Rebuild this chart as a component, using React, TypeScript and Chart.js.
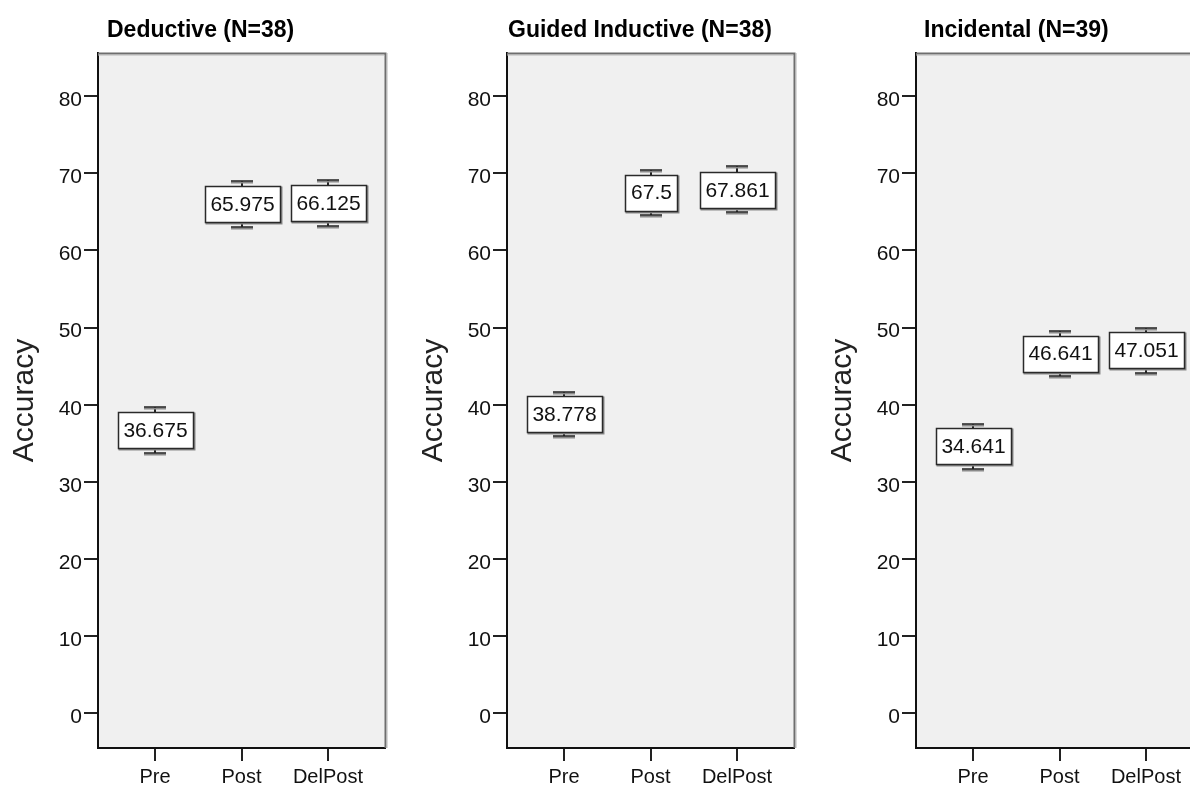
import React, { useEffect, useRef } from "react";
import { Chart, registerables } from "chart.js";

Chart.register(...registerables);

// ---------- data ----------
const categories = ["Pre", "Post", "DelPost"];
const yTicks = [0, 10, 20, 30, 40, 50, 60, 70, 80];
const yAxisTitle = "Accuracy";

const deductiveTitle = "Deductive (N=38)";
const deductiveMeans = [36.675, 65.975, 66.125];
const deductiveLower = [33.7, 63.1, 63.2];
const deductiveUpper = [39.65, 68.95, 69.1];

const guidedTitle = "Guided Inductive (N=38)";
const guidedMeans = [38.778, 67.5, 67.861];
const guidedLower = [35.9, 64.65, 65.05];
const guidedUpper = [41.7, 70.45, 70.9];

const incidentalTitle = "Incidental (N=39)";
const incidentalMeans = [34.641, 46.641, 47.051];
const incidentalLower = [31.7, 43.7, 44.15];
const incidentalUpper = [37.55, 49.55, 50.0];

// ---------- styling ----------
const FONT = '"Liberation Sans", Arial, Helvetica, sans-serif';
const CANVAS_W = 409;
const CANVAS_H = 786;

const framePlugin = {
  id: "spssFrame",
  beforeDraw(chart: any) {
    const { ctx, chartArea: a } = chart;
    ctx.save();
    ctx.fillStyle = "#f0f0f0";
    ctx.fillRect(a.left, a.top, a.right - a.left, a.bottom - a.top);
    ctx.restore();
  },
  afterDraw(chart: any) {
    const { ctx, chartArea: a } = chart;
    ctx.save();
    // top and right borders (grey, shadowed)
    ctx.strokeStyle = "#6e6e6e";
    ctx.lineWidth = 2;
    ctx.beginPath();
    ctx.moveTo(a.left, a.top + 0.5);
    ctx.lineTo(a.right + 0.5, a.top + 0.5);
    ctx.lineTo(a.right + 0.5, a.bottom);
    ctx.stroke();
    ctx.strokeStyle = "#b5b5b5";
    ctx.lineWidth = 1;
    ctx.beginPath();
    ctx.moveTo(a.left, a.top + 2);
    ctx.lineTo(a.right - 1, a.top + 2);
    ctx.moveTo(a.right + 2, a.top);
    ctx.lineTo(a.right + 2, a.bottom);
    ctx.stroke();
    // panel title
    const t = chart.options.plugins.panelTitle;
    ctx.fillStyle = "#000";
    ctx.font = `bold 23px ${FONT}`;
    ctx.textBaseline = "alphabetic";
    ctx.textAlign = "left";
    ctx.fillText(t.text, a.left + t.offset, 37);
    ctx.restore();
  },
};

const errorBoxPlugin = {
  id: "errorBoxes",
  afterDatasetsDraw(chart: any) {
    const { ctx } = chart;
    const x = chart.scales.x;
    const y = chart.scales.y;
    const ds: any = chart.data.datasets[0];
    ctx.save();
    ctx.font = `21px ${FONT}`;
    ds.data.forEach((pt: any, i: number) => {
      const cx = Math.round(x.getPixelForValue(pt.x));
      const cy = y.getPixelForValue(pt.y);
      const yHi = Math.round(y.getPixelForValue(ds.upper[i]));
      const yLo = Math.round(y.getPixelForValue(ds.lower[i]));
      const label = String(pt.y);
      const tw = ctx.measureText(label).width;
      const w = Math.round(tw + 11);
      const h = 36;
      const bx = Math.round(cx - w / 2);
      const by = Math.round(cy - h / 2);

      // whisker stems
      ctx.strokeStyle = "#222";
      ctx.lineWidth = 2;
      ctx.beginPath();
      ctx.moveTo(cx, yHi);
      ctx.lineTo(cx, by);
      ctx.moveTo(cx, by + h);
      ctx.lineTo(cx, yLo);
      ctx.stroke();

      // caps with shadow
      const capHalf = 11;
      [yHi, yLo].forEach((cyCap) => {
        ctx.strokeStyle = "#8a8a8a";
        ctx.lineWidth = 2;
        ctx.beginPath();
        ctx.moveTo(cx - capHalf, cyCap + 1.5);
        ctx.lineTo(cx + capHalf, cyCap + 1.5);
        ctx.stroke();
        ctx.strokeStyle = "#222";
        ctx.lineWidth = 1.5;
        ctx.beginPath();
        ctx.moveTo(cx - capHalf, cyCap);
        ctx.lineTo(cx + capHalf, cyCap);
        ctx.stroke();
      });

      // box shadow
      ctx.strokeStyle = "#8a8a8a";
      ctx.lineWidth = 2;
      ctx.strokeRect(bx + 1.5, by + 1.5, w, h);
      // box
      ctx.fillStyle = "#ffffff";
      ctx.fillRect(bx, by, w, h);
      ctx.strokeStyle = "#2a2a2a";
      ctx.lineWidth = 1.5;
      ctx.strokeRect(bx + 0.5, by + 0.5, w, h);

      // value text
      ctx.fillStyle = "#111";
      ctx.textAlign = "center";
      ctx.textBaseline = "middle";
      ctx.fillText(label, cx + 0.5, cy + 1);
    });
    ctx.restore();
  },
};

type PanelProps = {
  left: number;
  title: string;
  titleOffset: number;
  means: number[];
  lower: number[];
  upper: number[];
};

function Panel({ left, title, titleOffset, means, lower, upper }: PanelProps) {
  const ref = useRef<HTMLCanvasElement | null>(null);

  useEffect(() => {
    if (!ref.current) return;
    const chart = new Chart(ref.current, {
      type: "scatter",
      data: {
        datasets: [
          {
            data: means.map((m, i) => ({ x: i, y: m })),
            lower,
            upper,
            pointRadius: 0,
            showLine: false,
          } as any,
        ],
      },
      options: {
        animation: false,
        responsive: false,
        devicePixelRatio: 1,
        layout: { padding: { top: 53, right: 24, left: 0, bottom: 0 } },
        plugins: {
          legend: { display: false },
          tooltip: { enabled: false },
          title: { display: false },
          panelTitle: { text: title, offset: titleOffset },
        } as any,
        scales: {
          x: {
            type: "linear",
            min: -0.66,
            max: 2.66,
            afterBuildTicks: (s: any) => {
              s.ticks = categories.map((_, i) => ({ value: i }));
            },
            afterFit: (s: any) => {
              s.height = 38;
            },
            ticks: {
              callback: (v: any) => categories[v as number] ?? "",
              font: { size: 20, family: FONT },
              color: "#111",
              padding: 4,
              maxRotation: 0,
              autoSkip: false,
            },
            grid: {
              drawOnChartArea: false,
              tickLength: 13,
              color: "#222",
              lineWidth: 2,
            },
            border: { display: true, color: "#111", width: 2 },
          },
          y: {
            type: "linear",
            min: -4.5,
            max: 85.6,
            afterBuildTicks: (s: any) => {
              s.ticks = yTicks.map((v) => ({ value: v }));
            },
            afterFit: (s: any) => {
              s.width = 98;
            },
            ticks: {
              font: { size: 21, family: FONT },
              color: "#111",
              padding: 2,
              labelOffset: 4,
            },
            grid: {
              drawOnChartArea: false,
              tickLength: 14,
              color: "#222",
              lineWidth: 2,
            },
            border: { display: true, color: "#111", width: 2 },
            title: {
              display: true,
              text: yAxisTitle,
              font: { size: 30, family: FONT },
              color: "#222",
              padding: { top: 7, bottom: 0 },
            },
          },
        },
      } as any,
      plugins: [framePlugin, errorBoxPlugin],
    });
    return () => chart.destroy();
  }, []);

  return (
    <div style={{ position: "absolute", left, top: 0, width: CANVAS_W, height: CANVAS_H }}>
      <canvas ref={ref} width={CANVAS_W} height={CANVAS_H} style={{ width: CANVAS_W, height: CANVAS_H, display: "block" }} />
    </div>
  );
}

export default function App() {
  return (
    <div
      style={{
        position: "absolute",
        left: 0,
        top: 0,
        width: 1190,
        height: 786,
        overflow: "hidden",
        background: "#fff",
      }}
    >
      <Panel left={0} title={deductiveTitle} titleOffset={9} means={deductiveMeans} lower={deductiveLower} upper={deductiveUpper} />
      <Panel left={409} title={guidedTitle} titleOffset={1} means={guidedMeans} lower={guidedLower} upper={guidedUpper} />
      <Panel left={818} title={incidentalTitle} titleOffset={8} means={incidentalMeans} lower={incidentalLower} upper={incidentalUpper} />
    </div>
  );
}
